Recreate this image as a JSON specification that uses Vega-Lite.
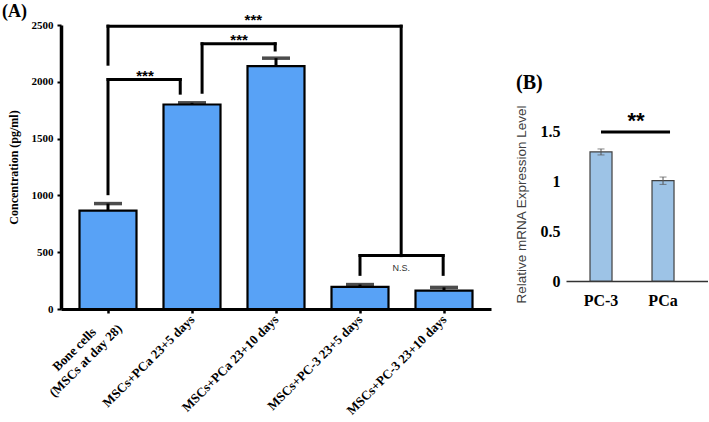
{
  "$schema": "https://vega.github.io/schema/vega-lite/v6.json",
  "background": "white",
  "padding": {"left": 2, "top": 2, "right": 0, "bottom": 0},
  "spacing": 23,
  "config": {"view": {"stroke": null}, "font": "Liberation Serif"},
  "datasets": {
    "concA": [
      {"pos": 1, "group": "Bone cells (MSCs at day 28)", "conc": 866, "sem": 62},
      {"pos": 2, "group": "MSCs+PCa 23+5 days", "conc": 1800, "sem": 15},
      {"pos": 3, "group": "MSCs+PCa 23+10 days", "conc": 2138, "sem": 70},
      {"pos": 4, "group": "MSCs+PC-3 23+5 days", "conc": 195, "sem": 20},
      {"pos": 5, "group": "MSCs+PC-3 23+10 days", "conc": 162, "sem": 28}
    ],
    "bracketsA": [
      {"x": 1.0, "x2": 1.86, "y": 2020, "y2": 2020},
      {"x": 1.0, "x2": 1.0, "y": 1015, "y2": 2020},
      {"x": 1.86, "x2": 1.86, "y": 1900, "y2": 2020},
      {"x": 2.12, "x2": 2.99, "y": 2335, "y2": 2335},
      {"x": 2.12, "x2": 2.12, "y": 1908, "y2": 2335},
      {"x": 2.99, "x2": 2.99, "y": 2280, "y2": 2335},
      {"x": 1.0, "x2": 4.49, "y": 2490, "y2": 2490},
      {"x": 1.0, "x2": 1.0, "y": 2155, "y2": 2490},
      {"x": 4.49, "x2": 4.49, "y": 470, "y2": 2490},
      {"x": 4.0, "x2": 4.99, "y": 470, "y2": 470},
      {"x": 4.0, "x2": 4.0, "y": 305, "y2": 470},
      {"x": 4.99, "x2": 4.99, "y": 305, "y2": 470}
    ],
    "sigA": [
      {"x": 1.44, "y": 2005, "label": "***"},
      {"x": 2.56, "y": 2326, "label": "***"},
      {"x": 2.73, "y": 2502, "label": "***"},
      {"x": 4.49, "y": 361, "label": "N.S."}
    ],
    "mrna": [
      {"gene": "PC-3", "level": 1.297, "sd": 0.03},
      {"gene": "PCa", "level": 1.008, "sd": 0.037}
    ],
    "sigB": [
      {"from": "PC-3", "to": "PCa", "y": 1.497, "ty": 1.535, "label": "**"}
    ]
  },
  "hconcat": [
    {
      "width": 430,
      "height": 284,
      "title": {"text": "(A)", "anchor": "start", "frame": "bounds", "font": "Liberation Serif", "fontSize": 18, "fontWeight": "bold", "color": "black", "offset": -8, "dx": -5},
      "layer": [
        {
          "data": {"name": "concA"},
          "mark": {"type": "errorbar", "color": "black", "thickness": 3, "ticks": {"size": 28, "thickness": 3.5, "color": "black"}},
          "encoding": {
            "x": {"field": "pos", "type": "quantitative", "title": null, "scale": {"domain": [0.5, 5.5], "nice": false, "zero": false},
              "axis": {"values": [1, 2, 3, 4, 5], "title": null, "grid": false, "labelAngle": -45,
                "labelAlign": {"condition": {"test": "datum.value == 1", "value": "center"}, "value": "right"},
                "labelOffset": {"condition": {"test": "datum.value == 1", "value": -34}, "value": 0},
                "labelPadding": {"condition": {"test": "datum.value == 1", "value": 36}, "value": 4},
                "labelBaseline": "middle", "labelFont": "Liberation Serif", "labelFontWeight": "bold", "labelFontSize": 13, "labelColor": "black", "labelLineHeight": 16,
                "labelExpr": "datum.value == 1 ? ['Bone cells', '(MSCs at day 28)'] : datum.value == 2 ? 'MSCs+PCa 23+5 days' : datum.value == 3 ? 'MSCs+PCa 23+10 days' : datum.value == 4 ? 'MSCs+PC-3 23+5 days' : 'MSCs+PC-3 23+10 days'",
                "domainColor": "black", "domainWidth": 3, "tickColor": "black", "tickWidth": 2.5, "tickSize": 4, "labelOverlap": false, "labelBound": false}},
            "y": {"field": "conc", "type": "quantitative", "title": "Concentration (pg/ml)", "scale": {"domain": [0, 2500], "nice": false},
              "axis": {"values": [0, 500, 1000, 1500, 2000, 2500], "format": "d", "title": "Concentration (pg/ml)", "grid": false, "titleFont": "Liberation Serif", "titleFontSize": 12, "titleFontWeight": "bold", "titleColor": "black", "titlePadding": 11, "labelFont": "Liberation Serif", "labelFontWeight": "bold", "labelFontSize": 11, "labelColor": "black", "domainColor": "black", "domainWidth": 3.5, "tickColor": "black", "tickWidth": 2, "tickSize": 4, "labelPadding": 4}},
            "yError": {"field": "sem"}
          }
        },
        {
          "data": {"name": "concA"},
          "mark": {"type": "bar", "width": 57, "fill": "#58a2f6", "stroke": "black", "strokeWidth": 2.2},
          "encoding": {
            "x": {"field": "pos", "type": "quantitative", "title": null},
            "y": {"field": "conc", "type": "quantitative", "title": "Concentration (pg/ml)"}
          }
        },
        {
          "data": {"name": "bracketsA"},
          "mark": {"type": "rule", "color": "black", "strokeWidth": 3, "strokeCap": "square"},
          "encoding": {
            "x": {"field": "x", "type": "quantitative", "title": null},
            "x2": {"field": "x2"},
            "y": {"field": "y", "type": "quantitative", "title": "Concentration (pg/ml)"},
            "y2": {"field": "y2"}
          }
        },
        {
          "data": {"name": "sigA"},
          "transform": [{"filter": "datum.label == '***'"}],
          "mark": {"type": "text", "font": "Liberation Sans", "fontSize": 15, "fontWeight": "bold", "color": "black", "baseline": "alphabetic", "align": "center"},
          "encoding": {
            "x": {"field": "x", "type": "quantitative", "title": null},
            "y": {"field": "y", "type": "quantitative", "title": "Concentration (pg/ml)"},
            "text": {"field": "label"}
          }
        },
        {
          "data": {"name": "sigA"},
          "transform": [{"filter": "datum.label == 'N.S.'"}],
          "mark": {"type": "text", "font": "Liberation Sans", "fontSize": 9, "color": "#333333", "baseline": "middle", "align": "center"},
          "encoding": {
            "x": {"field": "x", "type": "quantitative", "title": null},
            "y": {"field": "y", "type": "quantitative", "title": "Concentration (pg/ml)"},
            "text": {"field": "label"}
          }
        }
      ]
    },
    {
      "width": 142,
      "height": 256,
      "title": {"text": "(B)", "anchor": "start", "frame": "bounds", "font": "Liberation Serif", "fontSize": 20, "fontWeight": "bold", "color": "black", "dy": 72, "dx": 2},
      "layer": [
        {
          "data": {"name": "mrna"},
          "mark": {"type": "bar", "fill": "#9dc3e6", "stroke": "#404040", "strokeWidth": 1.2},
          "encoding": {
            "x": {"field": "gene", "type": "nominal", "sort": null, "title": null,
              "scale": {"domain": ["PC-3", "PCa"], "paddingInner": 0.645, "paddingOuter": 0.4675, "align": 0.414},
              "axis": {"title": null, "labelAngle": 0, "labelFont": "Liberation Serif", "labelFontSize": 16, "labelFontWeight": "bold", "labelColor": "black", "ticks": false, "domainColor": "#333333", "domainWidth": 1.5, "labelPadding": 11}},
            "y": {"field": "level", "type": "quantitative", "title": "Relative mRNA Expression Level", "scale": {"domain": [0, 2.573], "nice": false},
              "axis": {"values": [0, 0.5, 1, 1.5], "format": "~g", "title": "Relative mRNA Expression Level", "grid": false, "domain": false, "ticks": false, "labelFont": "Liberation Serif", "labelFontSize": 16, "labelFontWeight": "bold", "labelColor": "black", "labelPadding": 6, "titleFont": "Liberation Sans", "titleFontSize": 13.5, "titleFontWeight": "normal", "titleColor": "#404040", "titleY": 179, "titlePadding": 12}}
          }
        },
        {
          "data": {"name": "mrna"},
          "mark": {"type": "errorbar", "color": "#555555", "thickness": 1, "ticks": {"size": 7, "thickness": 1, "color": "#555555"}},
          "encoding": {
            "x": {"field": "gene", "type": "nominal", "title": null},
            "y": {"field": "level", "type": "quantitative", "title": "Relative mRNA Expression Level"},
            "yError": {"field": "sd"}
          }
        },
        {
          "data": {"name": "sigB"},
          "mark": {"type": "rule", "color": "black", "strokeWidth": 3, "x2Offset": 7},
          "encoding": {
            "x": {"field": "from", "type": "nominal", "title": null},
            "x2": {"field": "to"},
            "y": {"field": "y", "type": "quantitative", "title": "Relative mRNA Expression Level"}
          }
        },
        {
          "data": {"name": "sigB"},
          "mark": {"type": "text", "font": "Liberation Sans", "fontSize": 22, "fontWeight": "bold", "color": "black", "baseline": "alphabetic", "dx": 35},
          "encoding": {
            "x": {"field": "from", "type": "nominal", "title": null},
            "y": {"field": "ty", "type": "quantitative", "title": "Relative mRNA Expression Level"},
            "text": {"field": "label"}
          }
        }
      ]
    }
  ]
}
